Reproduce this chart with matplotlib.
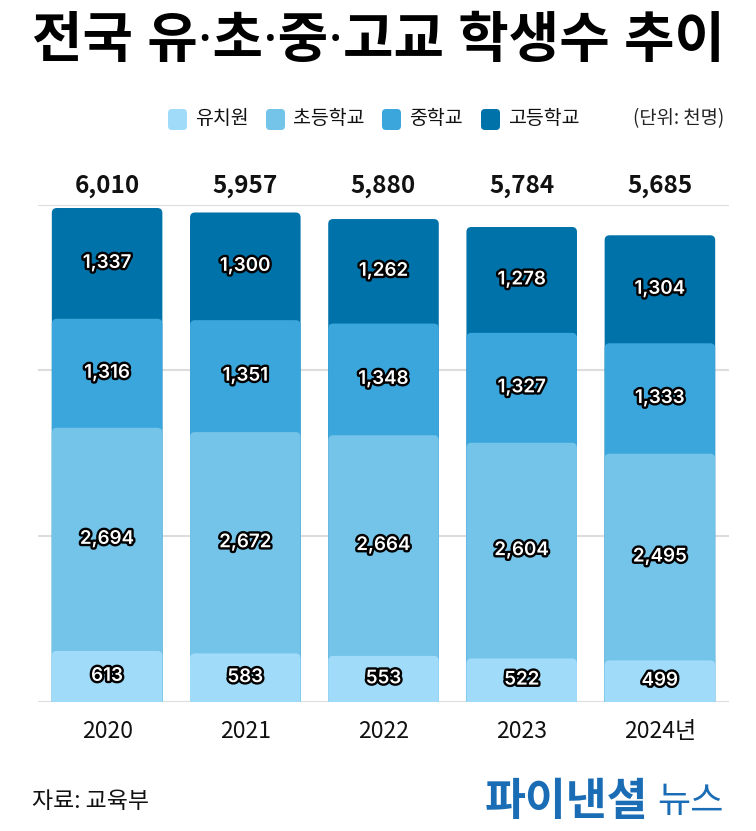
import numpy as np
import matplotlib.pyplot as plt
from matplotlib.patches import FancyBboxPatch
import matplotlib.patheffects as pe

plt.rcParams['font.family'] = ['Noto Sans CJK KR', 'DejaVu Sans']

# data (unit: thousand students)
years = ['2020', '2021', '2022', '2023', '2024년']
kinder = [613, 583, 553, 522, 499]
elementary = [2694, 2672, 2664, 2604, 2495]
middle = [1316, 1351, 1348, 1327, 1333]
high = [1337, 1300, 1262, 1278, 1304]
totals = [6010, 5957, 5880, 5784, 5685]

series_names = ['유치원', '초등학교', '중학교', '고등학교']
series = [kinder, elementary, middle, high]
colors = ['#a0dcfa', '#74c3e9', '#3ba6db', '#0072aa']

W, H = 756, 831
fig = plt.figure(figsize=(W / 100, H / 100), dpi=100)

# main axes placed in pixel terms
ax_left, ax_right, ax_top, ax_bottom = 38, 729, 204.7, 701.7
ax = fig.add_axes([ax_left / W, 1 - ax_bottom / H,
                   (ax_right - ax_left) / W, (ax_bottom - ax_top) / H])
ymax = 6000
ax.set_xlim(-0.5, len(years) - 0.5)
ax.set_ylim(0, ymax)

px_per_x = (ax_right - ax_left) / len(years)
px_per_y = (ax_bottom - ax_top) / ymax
aspect = px_per_x / px_per_y
bar_w = 0.80
radius_px = 5
r_x = radius_px / px_per_x
r_y = radius_px / px_per_y

cum = np.cumsum(np.array(series), axis=0)

# draw tallest stack first so lower segments sit on top (rounded top corners)
for k in range(len(series) - 1, -1, -1):
    for i in range(len(years)):
        top = cum[k, i]
        p = FancyBboxPatch((i - bar_w / 2, -r_y * 2), bar_w, top + r_y * 2,
                           boxstyle=f"round,pad=0,rounding_size={r_x}",
                           mutation_aspect=aspect, facecolor=colors[k],
                           edgecolor='none', zorder=2 + (len(series) - k))
        ax.add_patch(p)

# segment labels
for k in range(len(series)):
    for i in range(len(years)):
        bottom = cum[k, i] - series[k][i]
        ax.text(i, bottom + series[k][i] / 2, f'{series[k][i]:,}',
                ha='center', va='center', fontsize=13.5, color='white',
                family=['Inter', 'DejaVu Sans'], fontweight='semibold',
                zorder=10,
                path_effects=[pe.withStroke(linewidth=3.4, foreground='black')])

# totals above the plot area
for i, t in enumerate(totals):
    ax.text(i, 1 + 19 / (ax_bottom - ax_top), f'{t:,}',
            transform=ax.get_xaxis_transform(), ha='center', va='center',
            fontsize=17.5, fontweight='bold', color='#111111')

ax.set_yticks(np.arange(0, ymax + 1, 2000))
ax.yaxis.grid(True, color='#dddddd', linewidth=1.5, zorder=0)
ax.set_axisbelow(True)
ax.tick_params(axis='y', length=0, labelleft=False)
ax.set_xticks(range(len(years)), years)
ax.tick_params(axis='x', length=0, pad=13, labelsize=16.5, labelcolor='#111111')
for s in ax.spines.values():
    s.set_visible(False)

# overlay axes in pixel coordinates for title, legend, footer
ov = fig.add_axes([0, 0, 1, 1], zorder=-1)
ov.set_xlim(0, W)
ov.set_ylim(H, 0)
ov.axis('off')

ov.text(378, 42, '전국 유·초·중·고교 학생수 추이', ha='center', va='center',
        fontsize=39.5, fontweight='black', color='black',
        family=['Noto Sans', 'Noto Sans CJK KR'])

leg_x = [168, 266, 382, 481]
for x0, name, c in zip(leg_x, series_names, colors):
    ov.add_patch(FancyBboxPatch((x0, 109), 19, 21,
                                boxstyle="round,pad=0,rounding_size=4",
                                facecolor=c, edgecolor='none'))
    ov.text(x0 + 27, 119, name, ha='left', va='center', fontsize=14,
            color='#111111')
ov.text(724, 119, '(단위: 천명)', ha='right', va='center', fontsize=13.5,
        color='#222222')

ov.text(32, 801, '자료: 교육부', ha='left', va='center', fontsize=16.5,
        color='#111111')
ov.text(485, 802, '파이낸셜', ha='left', va='center', fontsize=32,
        fontweight='black', color='#1a6db5')
ov.text(657, 802, '뉴스', ha='left', va='center', fontsize=26,
        fontweight='regular', color='#1a6db5')

fig.savefig('out.png', dpi=100)
